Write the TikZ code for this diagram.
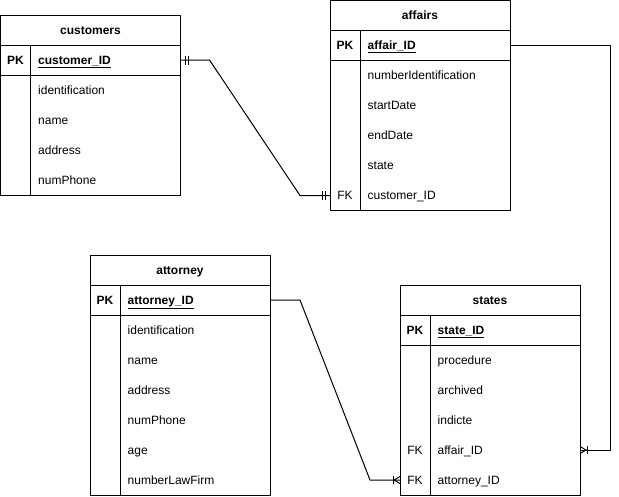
\documentclass[tikz,border=0pt]{standalone}
\usepackage{fontspec}
\setmainfont{Liberation Sans}
\usetikzlibrary{calc}

% One entity table: #1 name prefix, #2 x, #3 y (top left), #4 title,
% #5 primary key field, #6 list of key/field rows, #7 number of those rows
\newcommand\ertable[7]{%
  \node[rowbox] (#1T) at (#2,#3) {};
  \node[ttltxt] at (#1T) {#4};
  \node[rowbox] (#1PK) at (#2,#3+30) {};
  \node[pktxt] at ($(#1PK.west)+(15,0)$) {PK};
  \node[fieldtxt,font=\bfseries\fontsize{12}{14}\selectfont] at ($(#1PK.west)+(37.5,0)$) {\underline{#5}};
  \foreach [count=\n] \k/\f in {#6} {
    \node[rowbox] (#1R\n) at (#2,#3+30+30*\n) {};
    \node[keytxt] at ($(#1R\n.west)+(15,0)$) {\k};
    \node[fieldtxt] at ($(#1R\n.west)+(37.5,0)$) {\f};
  }
  \draw[rule] (#1T.north west) rectangle (#1R#7.south east);
  \draw[rule] (#1PK.north west) -- (#1PK.north east);
  \draw[rule] (#1PK.south west) -- (#1PK.south east);
  \draw[rule] ($(#1PK.north west)+(30,0)$) -- ($(#1R#7.south west)+(30,0)$);
}

\begin{document}
\begin{tikzpicture}[x=1pt,y=-1pt,
  rowbox/.style={anchor=north west,minimum width=180pt,minimum height=30pt,
                 inner sep=0pt,outer sep=0pt},
  txt/.style={inner sep=0pt,text height=8.6pt,text depth=0pt,
              font=\fontsize{12}{14}\selectfont},
  ttltxt/.style={txt,font=\bfseries\fontsize{12}{14}\selectfont},
  pktxt/.style={txt,font=\bfseries\fontsize{12}{14}\selectfont},
  keytxt/.style={txt},
  fieldtxt/.style={txt,anchor=west},
  rule/.style={line width=1pt,black},
  link/.style={line width=1pt,black},
  ermark/.style={line width=1pt,black}]

\useasboundingbox (0,0) rectangle (619,496);

\ertable{cus}{0.5}{15}{customers}{customer\_ID}
  {/identification,/name,/address,/numPhone}{4}
\ertable{aff}{330}{0.5}{affairs}{affair\_ID}
  {/numberIdentification,/startDate,/endDate,/state,FK/customer\_ID}{5}
\ertable{att}{90}{255}{attorney}{attorney\_ID}
  {/identification,/name,/address,/numPhone,/age,/numberLawFirm}{6}
\ertable{sta}{400}{285}{states}{state\_ID}
  {/procedure,/archived,/indicte,FK/affair\_ID,FK/attorney\_ID}{5}

% customers 1 -- 1 affairs
\draw[link] (cusPK.east) -- ++(29,0) -- ($(affR5.west)+(-30,0)$) -- (affR5.west);
\draw[ermark] ($(cusPK.east)+(4.5,-4.5)$) -- ++(0,9);
\draw[ermark] ($(cusPK.east)+(7.5,-4.5)$) -- ++(0,9);
\draw[ermark] ($(affR5.west)+(-5,-4.5)$) -- ++(0,9);
\draw[ermark] ($(affR5.west)+(-8,-4.5)$) -- ++(0,9);

% affairs 1 -- many states
\draw[link] (affPK.east) -- ++(100,0) |- (staR4.east);
\draw[ermark] ($(staR4.east)+(0,-3.5)$) -- ($(staR4.east)+(6,0)$) -- ($(staR4.east)+(0,3.5)$);
\draw[ermark] ($(staR4.east)+(7,-4)$) -- ++(0,8);

% attorney 1 -- many states
\draw[link] (attPK.east) -- ++(30,0) -- ($(staR5.west)+(-30,0)$) -- (staR5.west);
\draw[ermark] ($(staR5.west)+(0,-3.5)$) -- ($(staR5.west)+(-6,0)$) -- ($(staR5.west)+(0,3.5)$);
\draw[ermark] ($(staR5.west)+(-7,-4)$) -- ++(0,8);

\end{tikzpicture}
\end{document}
